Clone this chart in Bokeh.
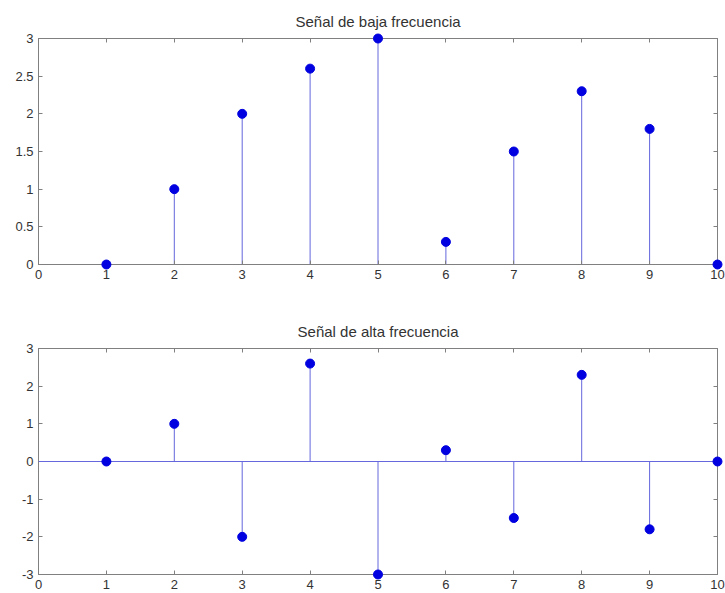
from bokeh.plotting import figure
from bokeh.layouts import column
from bokeh.models import Range1d, LinearAxis, FixedTicker, Span, ColumnDataSource
from bokeh.embed import file_html
from bokeh.resources import INLINE

n = [1, 2, 3, 4, 5, 6, 7, 8, 9, 10]
baja = [0, 1, 2, 2.6, 3, 0.3, 1.5, 2.3, 1.8, 0]
alta = [0, 1, -2, 2.6, -3, 0.3, -1.5, 2.3, -1.8, 0]
x_ticks = [0, 1, 2, 3, 4, 5, 6, 7, 8, 9, 10]
y_ticks_baja = [0, 0.5, 1, 1.5, 2, 2.5, 3]
y_labels_baja = ["0", "0.5", "1", "1.5", "2", "2.5", "3"]
y_ticks_alta = [-3, -2, -1, 0, 1, 2, 3]
y_labels_alta = ["-3", "-2", "-1", "0", "1", "2", "3"]
titles = ["Señal de baja frecuencia", "Señal de alta frecuencia"]

FONT = "Liberation Sans"
AXC = "#808080"
TXT = "#333333"
MARK = "#0000e0"
STEM = "#6666dd"


def style_axis(ax, labels=True):
    ax.major_tick_in = 4
    ax.major_tick_out = 0
    ax.minor_tick_line_color = None
    ax.axis_line_color = AXC
    ax.major_tick_line_color = AXC
    ax.major_label_text_font = FONT
    ax.major_label_text_font_size = "13px"
    ax.major_label_text_color = TXT if labels else None
    ax.major_label_standoff = 5


def make_plot(y, yr, yticks, ylabels, title, h, top, bottom, baseline):
    p = figure(width=725, height=h, x_range=Range1d(0, 10), y_range=Range1d(*yr),
               output_backend="svg", toolbar_location=None,
               min_border_left=38, min_border_right=8,
               min_border_top=top, min_border_bottom=bottom)
    p.title.text = title
    p.title.align = "center"
    p.title.text_font = FONT
    p.title.text_font_size = "15px"
    p.title.text_font_style = "normal"
    p.title.text_color = TXT
    p.title.standoff = 18
    p.xgrid.visible = False
    p.ygrid.visible = False
    p.outline_line_color = AXC
    p.background_fill_color = "white"
    p.border_fill_color = "white"

    p.xaxis.ticker = FixedTicker(ticks=x_ticks)
    p.yaxis.ticker = FixedTicker(ticks=yticks)
    p.yaxis.major_label_overrides = {t: l for t, l in zip(yticks, ylabels)}
    style_axis(p.xaxis[0])
    style_axis(p.yaxis[0])
    ax_top = LinearAxis(ticker=FixedTicker(ticks=x_ticks))
    style_axis(ax_top, labels=False)
    p.add_layout(ax_top, "above")
    ax_r = LinearAxis(ticker=FixedTicker(ticks=yticks))
    style_axis(ax_r, labels=False)
    p.add_layout(ax_r, "right")

    if baseline:
        p.add_layout(Span(location=0, dimension="width", line_color=STEM, line_width=1))

    src = ColumnDataSource(dict(x=n, y=y, y0=[0] * len(n)))
    p.segment(x0="x", y0="y0", x1="x", y1="y", source=src, line_color=STEM, line_width=1)
    r = p.scatter(x="x", y="y", source=src, size=9, fill_color=MARK, line_color=MARK)
    r.level = "overlay"
    return p


p1 = make_plot(baja, (0, 3), y_ticks_baja, y_labels_baja, titles[0], 290, 38, 26, False)
p2 = make_plot(alta, (-3, 3), y_ticks_alta, y_labels_alta, titles[1], 303, 58, 19, True)

layout = column(p1, p2, spacing=0)
open("out.html", "w").write(file_html(layout, INLINE))
